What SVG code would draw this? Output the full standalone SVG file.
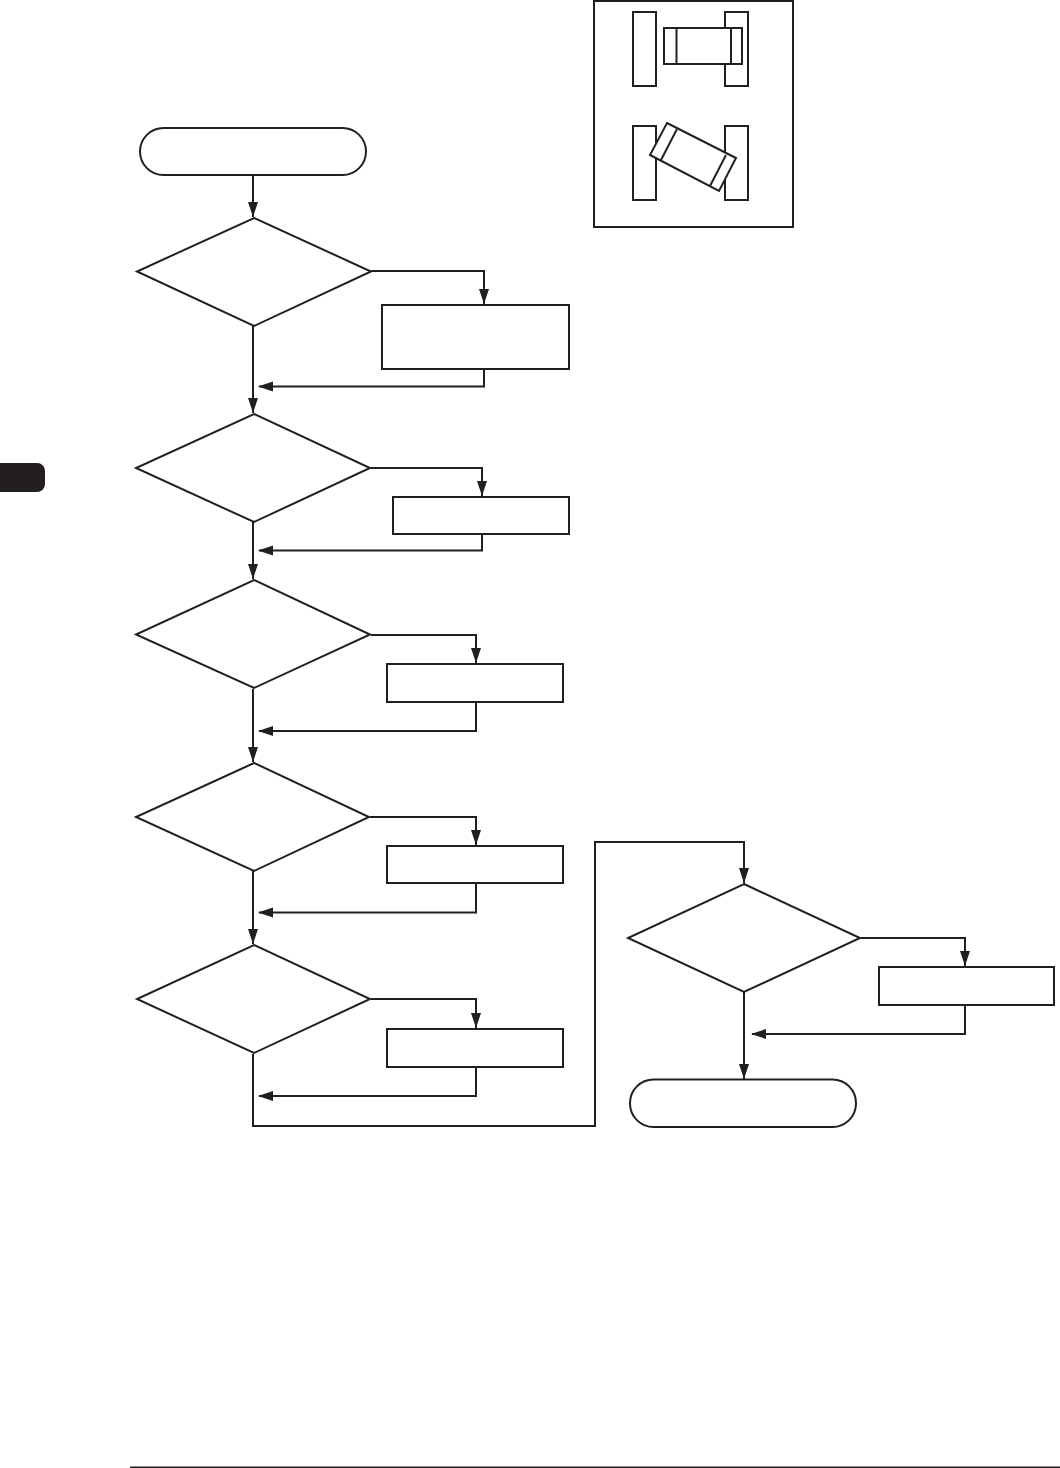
<svg xmlns="http://www.w3.org/2000/svg" width="1060" height="1468" viewBox="0 0 1060 1468">
<style>
.s{fill:#fff;stroke:#231f20;stroke-width:2}
.o{fill:none;stroke:#231f20;stroke-width:2}
.c{fill:none;stroke:#231f20;stroke-width:2}
.a{fill:#231f20;stroke:none}
</style>
<defs>
<polygon id="d" class="a" points="-5,-15 5,-15 0,0"/>
<polygon id="l" class="a" points="15,-5 15,5 0,0"/>
</defs>
<rect width="1060" height="1468" fill="#fff"/>
<g id="tab"><path d="M0 463H37a8 8 0 0 1 8 8V484a8 8 0 0 1-8 8H0Z" fill="#231f20"/></g>
<g id="inset">
<rect class="s" x="594" y="1" width="199" height="226"/>
<rect class="s" x="633" y="12" width="23" height="74"/>
<rect class="s" x="725" y="12" width="23" height="74"/>
<rect class="s" x="664" y="28" width="78" height="36"/>
<path class="o" d="M676.500 28V64M731 28V64"/>
<rect class="s" x="633" y="126" width="23" height="74"/>
<rect class="s" x="725" y="126" width="23" height="74"/>
<polygon class="s" points="667,123 736,158 719,191 650,155"/>
<path class="o" d="M677,129 661,160M726,155 710,186"/>
</g>
<g id="connectors">
<path class="c" d="M253 176V217"/><use href="#d" x="253" y="217"/>
<path class="c" d="M371 271H484V304"/><use href="#d" x="484" y="304"/>
<path class="c" d="M253 326V413"/><use href="#d" x="253" y="413"/>
<path class="c" d="M484 370V386.500H259"/><use href="#l" x="258" y="386.500"/>
<path class="c" d="M371 468H482V496"/><use href="#d" x="482" y="496"/>
<path class="c" d="M253 522V579"/><use href="#d" x="253" y="579"/>
<path class="c" d="M482 535V550.500H259"/><use href="#l" x="258" y="550.500"/>
<path class="c" d="M371 635H476V663"/><use href="#d" x="476" y="663"/>
<path class="c" d="M253 689V762"/><use href="#d" x="253" y="762"/>
<path class="c" d="M476 702V731H259"/><use href="#l" x="258" y="731"/>
<path class="c" d="M370 817H476V845"/><use href="#d" x="476" y="845"/>
<path class="c" d="M253 871V944"/><use href="#d" x="253" y="944"/>
<path class="c" d="M476 883V912.500H259"/><use href="#l" x="258" y="912.500"/>
<path class="c" d="M371 999H476V1028"/><use href="#d" x="476" y="1028"/>
<path class="c" d="M476 1067V1096H259"/><use href="#l" x="258" y="1096"/>
<path class="c" d="M253 1054V1126H595V842H744V883"/><use href="#d" x="744" y="883"/>
<path class="c" d="M861 938H965V966"/><use href="#d" x="965" y="966"/>
<path class="c" d="M744 992V1079"/><use href="#d" x="744" y="1079"/>
<path class="c" d="M965 1005V1034H752"/><use href="#l" x="751" y="1034"/>
</g>
<g id="start"><rect class="s" x="140" y="128" width="226" height="47" rx="23.500"/></g>
<g id="d1"><polygon class="s" points="254,218 371,271.500 254,326 137,271.500"/></g>
<g id="b1"><rect class="s" x="382" y="305" width="187" height="64"/></g>
<g id="d2"><polygon class="s" points="254,414 370,468 254,522 136,468"/></g>
<g id="b2"><rect class="s" x="393" y="497" width="176" height="37"/></g>
<g id="d3"><polygon class="s" points="254,580 370,634.500 254,688 136,634.500"/></g>
<g id="b3"><rect class="s" x="387" y="664" width="176" height="38"/></g>
<g id="d4"><polygon class="s" points="254,763 369,817 254,871 136,817"/></g>
<g id="b4"><rect class="s" x="387" y="846" width="176" height="37"/></g>
<g id="d5"><polygon class="s" points="254,945 370,999 254,1053 137,999"/></g>
<g id="b5"><rect class="s" x="387" y="1029" width="176" height="38"/></g>
<g id="d6"><polygon class="s" points="744,884 860,938 744,992 628,938"/></g>
<g id="b6"><rect class="s" x="879" y="967" width="175" height="38"/></g>
<g id="end"><rect class="s" x="630" y="1079.500" width="226" height="47.500" rx="23.500"/></g>
<g id="rule"><path d="M130 1467.500H1060" stroke="#231f20" stroke-width="2" fill="none"/></g>
</svg>
